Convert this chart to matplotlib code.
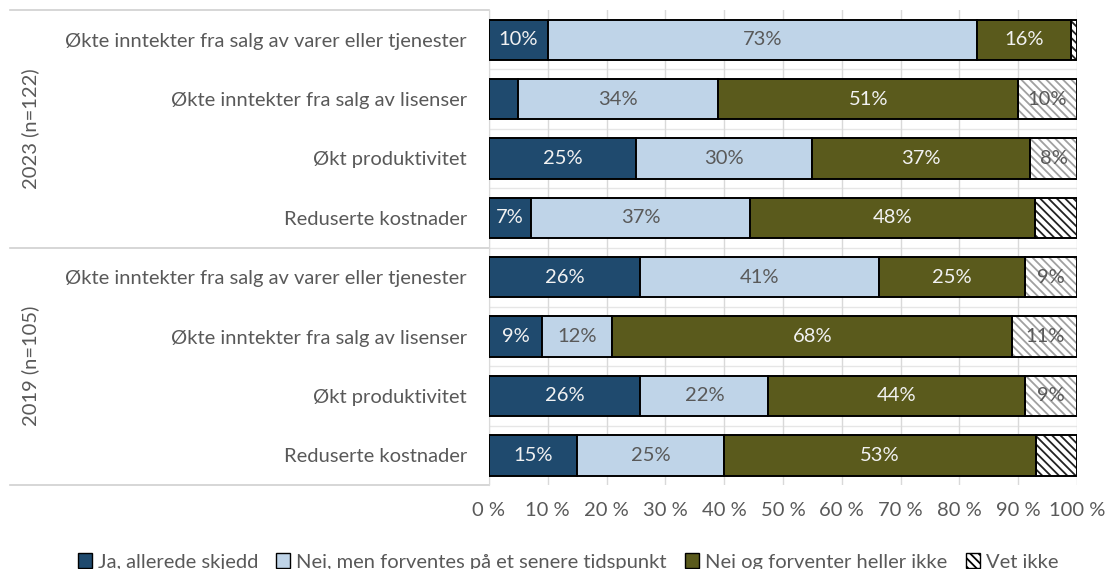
import matplotlib
matplotlib.use("Agg")
import matplotlib.pyplot as plt
import numpy as np
from matplotlib.patches import Patch

plt.rcParams['font.family'] = ['Lato', 'DejaVu Sans']
plt.rcParams['hatch.linewidth'] = 1.3

categories = [
    "Økte inntekter fra salg av varer eller tjenester",
    "Økte inntekter fra salg av lisenser",
    "Økt produktivitet",
    "Reduserte kostnader",
    "Økte inntekter fra salg av varer eller tjenester",
    "Økte inntekter fra salg av lisenser",
    "Økt produktivitet",
    "Reduserte kostnader",
]
groups = ["2023 (n=122)", "2019 (n=105)"]
series_names = [
    "Ja, allerede skjedd",
    "Nei, men forventes på et senere tidspunkt",
    "Nei og forventer heller ikke",
    "Vet ikke",
]

ja = [10, 5, 25, 7, 26, 9, 26, 15]
nei_senere = [73, 34, 30, 37, 41, 12, 22, 25]
nei_ikke = [16, 51, 37, 48, 25, 68, 44, 53]
vet_ikke = [1, 10, 8, 7, 9, 11, 9, 7]

# labels that are not shown in the original (too small / removed)
hidden = [(0, 3), (1, 0), (3, 3), (7, 3)]

colors = ["#1f4a6e", "#bfd4e8", "#5a5a1c", "white"]
text_colors = ["#f2f2f2", "#595959", "#f2f2f2", "#595959"]
gray = "#595959"
fs = 14.5

data = np.array([ja, nei_senere, nei_ikke, vet_ikke], dtype=float)
shares = data / data.sum(axis=0)

fig = plt.figure(figsize=(11.07, 5.69), dpi=100)
ax = fig.add_axes([489 / 1107, 1 - 485 / 569, 588 / 1107, 475 / 569])

y = np.arange(len(categories))
left = np.zeros(len(categories))
for s in range(4):
    if s == 3:
        for i in range(len(categories)):
            hcol = "#222222" if (i, s) in hidden else "#a0a0a0"
            plt.rcParams['hatch.color'] = hcol
            ax.barh(y[i], shares[s, i], left=left[i], height=0.68,
                    color="white", edgecolor=hcol, hatch="\\\\\\\\", linewidth=0, zorder=2)
            ax.barh(y[i], shares[s, i], left=left[i], height=0.68,
                    fill=False, edgecolor="black", linewidth=1.4, zorder=3)
    else:
        ax.barh(y, shares[s], left=left, height=0.68, color=colors[s],
                edgecolor="black", linewidth=1.4, zorder=3)
    for i in range(len(categories)):
        if (i, s) in hidden:
            continue
        ax.text(left[i] + shares[s, i] / 2, y[i], f"{int(data[s, i])}%",
                ha="center", va="center", fontsize=fs, color=text_colors[s], zorder=4)
    left += shares[s]

ax.set_xlim(0, 1)
ax.set_ylim(len(categories) - 0.5, -0.5)
ax.set_xticks(np.arange(0, 1.01, 0.1))
ax.set_xticklabels([f"{int(round(v * 100))} %" for v in np.arange(0, 1.01, 0.1)])
ax.set_yticks(y)
ax.set_yticklabels(categories)
ax.tick_params(axis="both", length=0, labelsize=fs, colors=gray)
ax.tick_params(axis="y", pad=16)
ax.tick_params(axis="x", pad=12)
ax.grid(axis="x", color="#d9d9d9", linewidth=1, zorder=0)
for b in np.arange(0.5, len(categories) - 1, 1.0):
    ax.axhline(b, color="#e6e6e6", linewidth=1, zorder=1)
for sp in ["top", "right", "bottom"]:
    ax.spines[sp].set_visible(False)
ax.spines["left"].set_color("#d9d9d9")

# group separators and labels on the left
tr = ax.get_yaxis_transform()
for b in [-0.5, 3.5, 7.5]:
    ax.plot([-479 / 588, 0], [b, b], transform=tr, color="#d0d0d0",
            linewidth=1.2, clip_on=False)
for g, label in enumerate(groups):
    ax.text(-459 / 588, 1.5 + 4 * g, label, transform=tr, rotation=90,
            ha="center", va="center", fontsize=fs, color=gray)

handles = []
for s in range(4):
    if s == 3:
        plt.rcParams['hatch.color'] = "#222222"
        handles.append(Patch(facecolor="white", edgecolor="black", hatch="\\\\\\\\",
                             linewidth=1))
    else:
        handles.append(Patch(facecolor=colors[s], edgecolor="black", linewidth=1))
fig.legend(handles, series_names, loc="center", bbox_to_anchor=(0.513, 1 - 562 / 569),
           ncol=4, frameon=False, fontsize=fs, labelcolor=gray,
           handlelength=0.7, handleheight=0.7, handletextpad=0.3, columnspacing=0.9)

fig.savefig("out.png", dpi=100)
